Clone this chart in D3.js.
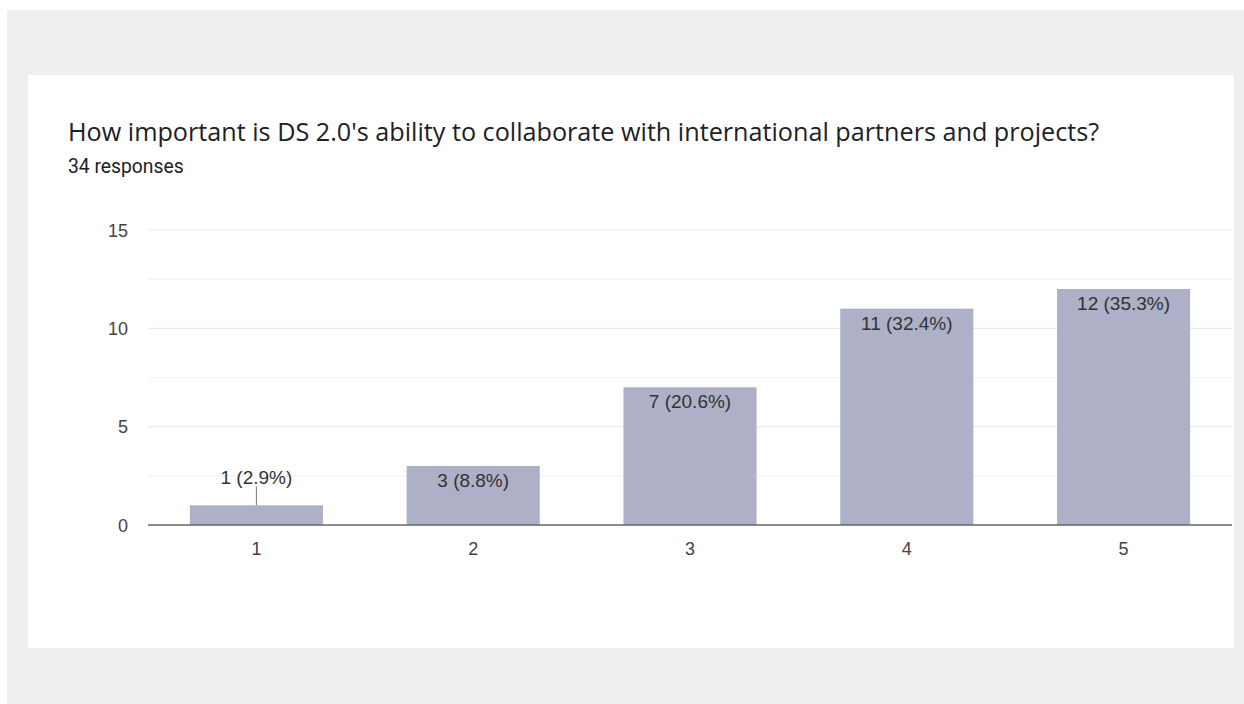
<!DOCTYPE html>
<html><head><meta charset="utf-8">
<script src="https://cdn.jsdelivr.net/npm/d3@7"></script>
<style>
html,body{margin:0;padding:0;background:#fff;}
svg{display:block;}
</style></head>
<body>
<svg id="chart" width="1244" height="704"></svg>
<script>
const title = "How important is DS 2.0's ability to collaborate with international partners and projects?";
const subtitle = "34 responses";
const categories = ["1", "2", "3", "4", "5"];
const counts = [1, 3, 7, 11, 12];
const percents = ["2.9%", "8.8%", "20.6%", "32.4%", "35.3%"];
const yTicks = [0, 5, 10, 15];
const yMinorTicks = [2.5, 7.5, 12.5];

const svg = d3.select("#chart");
svg.append("rect").attr("x", 7).attr("y", 10).attr("width", 1237).attr("height", 694).attr("fill", "#eeeeee");
svg.append("rect").attr("x", 28).attr("y", 75).attr("width", 1206).attr("height", 573).attr("fill", "#ffffff");

svg.append("text").attr("x", 68).attr("y", 141).text(title)
  .attr("font-family", "'Open Sans', sans-serif").attr("font-size", 25.2).attr("fill", "#202124");
svg.append("text").attr("x", 68).attr("y", 173).text(subtitle)
  .attr("font-family", "Roboto, sans-serif").attr("font-size", 19.3).attr("fill", "#202124");

const x = d3.scaleBand().domain(categories).range([148, 1232]).paddingInner(0.386).paddingOuter(0.193);
const y = d3.scaleLinear().domain([0, 15]).range([525, 230]);

const g = svg.append("g");
g.selectAll(".minor").data(yMinorTicks).join("line")
  .attr("x1", 148).attr("x2", 1232).attr("y1", d => y(d)).attr("y2", d => y(d))
  .attr("stroke", "#f3f3f3").attr("stroke-width", 1.2);
g.selectAll(".major").data(yTicks.filter(d => d > 0)).join("line")
  .attr("x1", 148).attr("x2", 1232).attr("y1", d => y(d)).attr("y2", d => y(d))
  .attr("stroke", "#ebebeb").attr("stroke-width", 1.2);

const yAxis = d3.axisLeft(y).tickValues(yTicks).tickSize(0).tickPadding(20);
const ya = svg.append("g").attr("transform", "translate(148,0)").call(yAxis);
ya.select(".domain").remove();
ya.selectAll("text").attr("font-family", "'Liberation Sans', Arial, sans-serif").attr("font-size", 18).attr("fill", "#444").attr("dy", "0.35em");

g.selectAll(".bar").data(counts).join("rect")
  .attr("x", (d, i) => x(categories[i])).attr("width", x.bandwidth())
  .attr("y", d => y(d)).attr("height", d => y(0) - y(d))
  .attr("fill", "#adb0c6");

svg.append("line").attr("x1", 148).attr("x2", 1232).attr("y1", y(0)).attr("y2", y(0))
  .attr("stroke", "#666").attr("stroke-width", 1.5);

const xAxis = d3.axisBottom(x).tickSize(0).tickPadding(17);
const xa = svg.append("g").attr("transform", `translate(0,${y(0)})`).call(xAxis);
xa.select(".domain").remove();
xa.selectAll("text").attr("font-family", "'Liberation Sans', Arial, sans-serif").attr("font-size", 18).attr("fill", "#444");

const labels = svg.append("g").attr("font-family", "'Liberation Sans', Arial, sans-serif").attr("font-size", 19).attr("fill", "#333").attr("text-anchor", "middle");
counts.forEach((c, i) => {
  const cx = x(categories[i]) + x.bandwidth() / 2;
  const txt = `${c} (${percents[i]})`;
  if (y(0) - y(c) < 30) {
    labels.append("line").attr("x1", cx).attr("x2", cx).attr("y1", y(c)).attr("y2", y(c) - 19).attr("stroke", "#777").attr("stroke-width", 1);
    labels.append("text").attr("x", cx).attr("y", y(c) - 21).text(txt);
  } else {
    labels.append("text").attr("x", cx).attr("y", y(c) + 21).text(txt);
  }
});
</script>
</body></html>
